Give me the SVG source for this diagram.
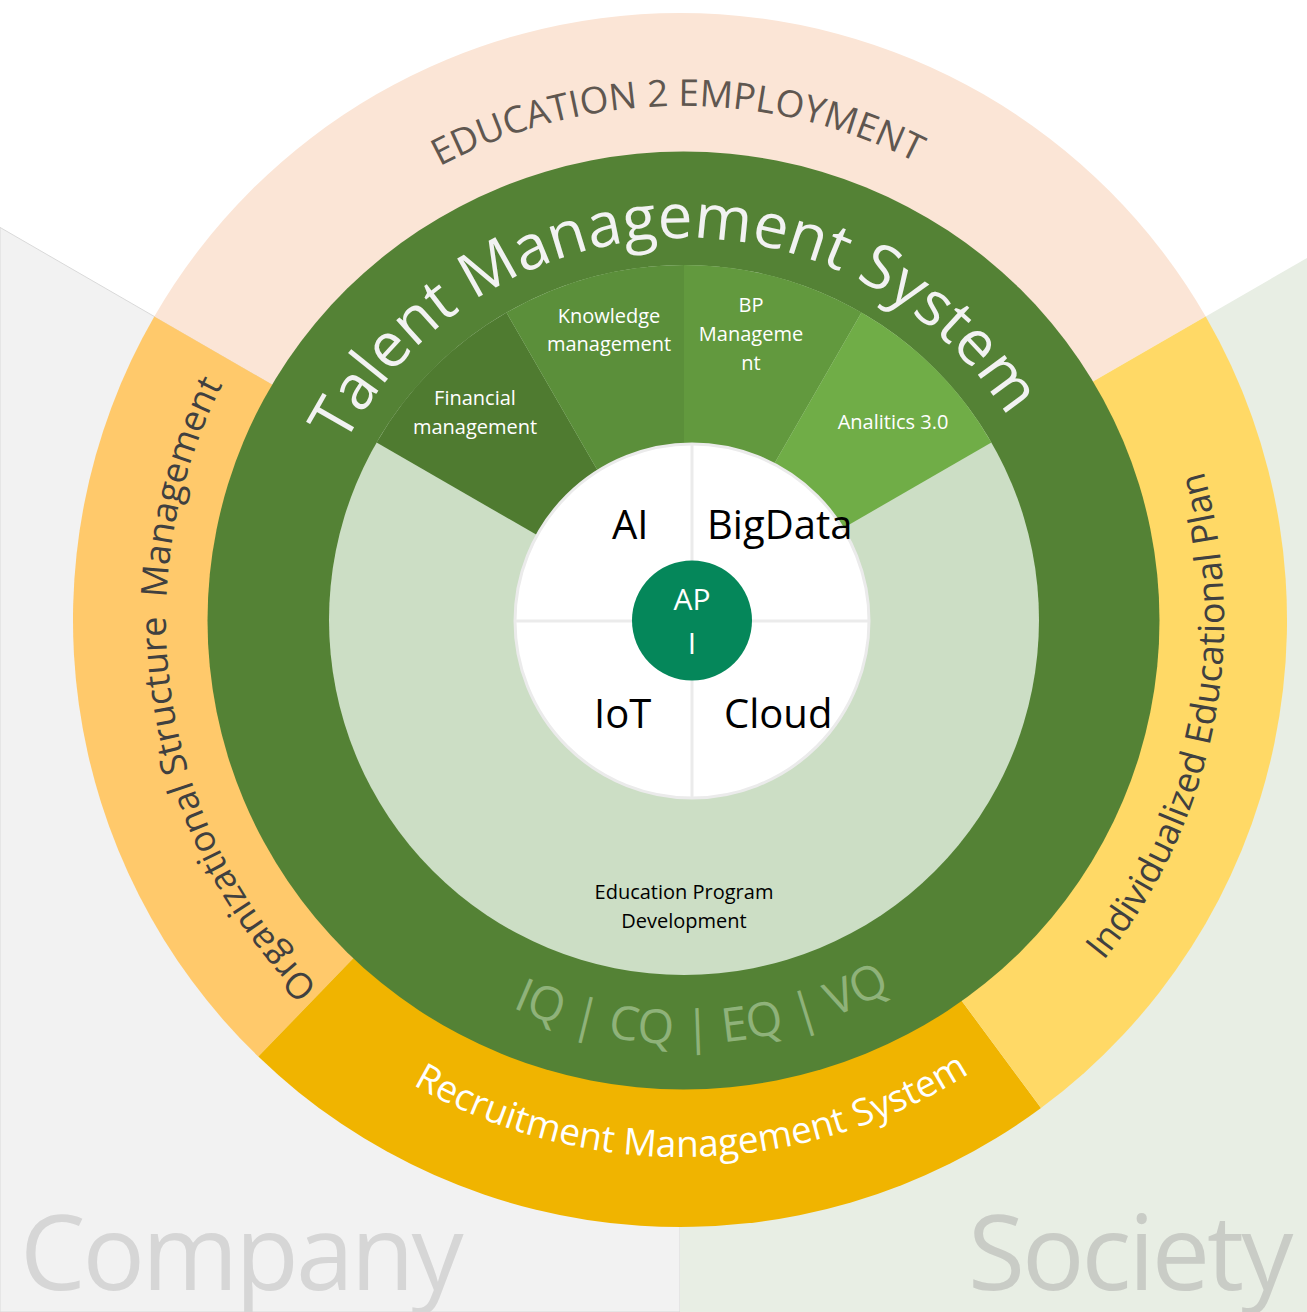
<svg xmlns="http://www.w3.org/2000/svg" width="1307" height="1312" viewBox="0 0 1307 1312">
<defs>
<style>
text{font-family:"Open Sans","Noto Sans","DejaVu Sans",sans-serif}
.ring{font-size:36px;fill:#404040}
.wl{font-size:20px;fill:#ffffff;text-anchor:middle}
.core{font-size:40px;fill:#000000}
.bg{font-size:104px;letter-spacing:-3px}
.qline{stroke:#ebebeb;stroke-width:3;fill:none}
</style>
<path id="p-talent" d="M310.84 701.70 A382 382 0 1 1 1062.60 670.85"/>
<path id="p-edu" d="M176.6 713.7 A514 514 0 1 1 1188.9 704.8"/>
<path id="p-org" d="M852.6 1109.8 A518 518 0 1 1 693.0 102.1"/>
<path id="p-ind" d="M483.4 1124.3 A542 542 0 1 0 696.2 78.2"/>
<path id="p-rec" d="M151.4 537.4 A537 537 0 1 0 1208.9 516.2"/>
<path id="p-iq" d="M263.4 566.1 A424 424 0 1 0 1097.6 526.8"/>
</defs>

<rect x="0" y="0" width="1307" height="1312" fill="#ffffff"/>

<g id="company">
<path d="M680 620 L0 227.4 L0 1312 L680 1312 Z" fill="#f2f2f2" stroke="#d9d9d9" stroke-width="1"/>
<text class="bg" x="20" y="1290" fill="#d6d6d6">Company</text>
</g>
<g id="society">
<path d="M680 620 L1307 258 L1307 1312 L680 1312 Z" fill="#e8eee4"/>
<text class="bg" x="968" y="1290" fill="#c9ccc6">Society</text>
</g>

<g id="education-2-employment">
<path d="M680 620 L1205.7 316.5 A607 607 0 0 0 154.3 316.5 Z" fill="#fbe5d6"/>
</g>
<g id="organizational-structure">
<path d="M680 620 L154.3 316.5 A607 607 0 0 0 258.3 1056.6 Z" fill="#ffc96b"/>
</g>
<g id="recruitment">
<path d="M680 620 L258.3 1056.6 A607 607 0 0 0 1041 1108 Z" fill="#f0b400"/>
</g>
<g id="individualized-plan">
<path d="M680 620 L1041 1108 A607 607 0 0 0 1205.7 316.5 Z" fill="#ffd966"/>
</g>

<g id="talent-management-system">
<ellipse cx="683.5" cy="620.5" rx="476" ry="469" fill="#548235"/>
</g>

<g id="education-program-development">
<circle cx="684" cy="620" r="355" fill="#ccdec5"/>
<text x="684" y="899" font-size="20" fill="#000000" text-anchor="middle">Education Program</text>
<text x="684" y="928" font-size="20" fill="#000000" text-anchor="middle">Development</text>
</g>

<g id="financial-management">
<path d="M684 620 L376.6 442.5 A355 355 0 0 1 506.5 312.6 Z" fill="#4f7b30"/>
<text class="wl" x="475" y="405">Financial</text>
<text class="wl" x="475" y="434">management</text>
</g>
<g id="knowledge-management">
<path d="M684 620 L506.5 312.6 A355 355 0 0 1 684 265 Z" fill="#5b8f3a"/>
<text class="wl" x="609" y="323">Knowledge</text>
<text class="wl" x="609" y="351">management</text>
</g>
<g id="bp-management">
<path d="M684 620 L684 265 A355 355 0 0 1 861.5 312.6 Z" fill="#62993e"/>
<text class="wl" x="751" y="312">BP</text>
<text class="wl" x="751" y="341">Manageme</text>
<text class="wl" x="751" y="370">nt</text>
</g>
<g id="analitics">
<path d="M684 620 L861.5 312.6 A355 355 0 0 1 991.4 442.5 Z" fill="#70ad47"/>
<text class="wl" x="893" y="429">Analitics 3.0</text>
</g>

<g id="core">
<circle cx="692" cy="621" r="177" fill="#ffffff" stroke="#ebebeb" stroke-width="3"/>
<line class="qline" x1="692" y1="444" x2="692" y2="798"/>
<line class="qline" x1="515" y1="621" x2="869" y2="621"/>
</g>
<g id="ai"><text class="core" x="612" y="539">AI</text></g>
<g id="bigdata"><text class="core" x="707" y="539">BigData</text></g>
<g id="iot"><text class="core" x="594" y="728">IoT</text></g>
<g id="cloud"><text class="core" x="724" y="728">Cloud</text></g>

<g id="api">
<circle cx="692" cy="620.5" r="60" fill="#05875a"/>
<text x="692" y="610" font-size="30" fill="#ffffff" text-anchor="middle">AP</text>
<text x="692" y="654" font-size="30" fill="#ffffff" text-anchor="middle">I</text>
</g>

<g id="ring-labels">
<text font-size="37" fill="#5f5750"><textPath href="#p-edu" startOffset="50%" text-anchor="middle">EDUCATION 2 EMPLOYMENT</textPath></text>
<text class="ring"><textPath href="#p-org" startOffset="50%" text-anchor="middle">Organizational Structure&#160; Management</textPath></text>
<text class="ring"><textPath href="#p-ind" startOffset="50%" text-anchor="middle">Individualized Educational Plan</textPath></text>
<text font-size="37" fill="#ffffff"><textPath href="#p-rec" startOffset="50%" text-anchor="middle">Recruitment Management System</textPath></text>
<text font-size="62" fill="#f2f2f2"><textPath href="#p-talent" startOffset="50%" text-anchor="middle">Talent Management System</textPath></text>
<text font-size="47" fill="#8fb27a"><textPath href="#p-iq" startOffset="50%" text-anchor="middle">IQ | CQ | EQ | VQ</textPath></text>
</g>

<g id="connectors"></g>
</svg>
